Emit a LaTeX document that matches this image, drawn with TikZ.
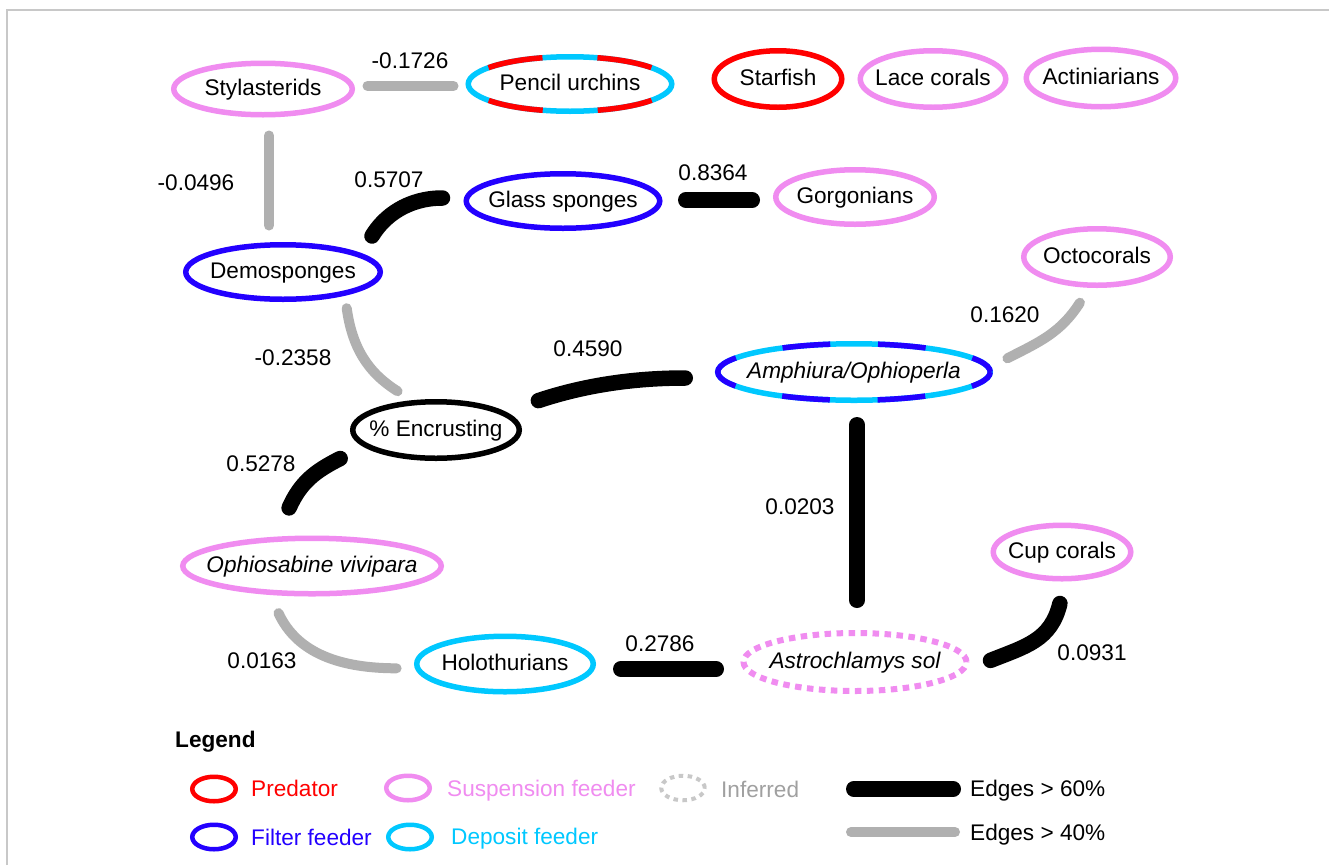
\documentclass[tikz,border=0pt]{standalone}
\usepackage{fontspec}
\setmainfont{Liberation Sans}
\usetikzlibrary{shapes.geometric,calc}
\definecolor{pinkc}{RGB}{240,140,240}
\definecolor{bluec}{RGB}{35,0,255}
\definecolor{cyanc}{RGB}{0,200,255}
\definecolor{redc}{RGB}{255,0,0}
\definecolor{edgegrey}{RGB}{176,176,176}
\definecolor{infgrey}{RGB}{200,200,200}
\definecolor{inftext}{RGB}{160,160,160}
\definecolor{framegrey}{RGB}{200,200,200}
\newcommand{\ctrtext}[1]{\makebox[0pt]{#1}}
\begin{document}
\begin{tikzpicture}[x=1pt,y=1pt,
  every node/.style={font=\fontsize{22.6}{27}\selectfont},
  ell/.style={ellipse, draw, line width=5.5pt, inner sep=0pt, outer sep=0pt, text height=16.3pt, text depth=3.4pt},
  legell/.style={ellipse, draw, line width=4.5pt, inner sep=0pt, outer sep=0pt, minimum width=43.5pt, minimum height=24.5pt},
  edgeB/.style={line width=15.5pt, line cap=round, black},
  edgeG/.style={line width=10pt, line cap=round, edgegrey},
  numlab/.style={inner sep=0pt, text height=16.3pt, text depth=0pt},
  legtext/.style={anchor=west, inner sep=0pt, text height=16.3pt, text depth=0pt}
]
\path[use as bounding box, fill=white] (0,0) rectangle (1329,-865);
\draw[framegrey, line width=1.2pt] (7,-865) -- (7,-10) -- (1329,-10);

% nodes
\node[ell, draw=pinkc, minimum width=178.5pt, minimum height=51.5pt] (Styl) at (263,-89) {\ctrtext{Stylasterids}};
\node[ell, draw=cyanc, minimum width=203.5pt, minimum height=54.5pt,
      postaction={draw=redc, dash pattern=on 55pt off 55pt, dash phase=82.5pt}] (Pencil) at (570,-84) {\ctrtext{Pencil urchins}};
\node[ell, draw=redc, minimum width=127.5pt, minimum height=56.5pt] (Star) at (778,-79) {\ctrtext{Starfish}};
\node[ell, draw=pinkc, minimum width=145.5pt, minimum height=56.5pt] (Lace) at (933,-79) {\ctrtext{Lace corals}};
\node[ell, draw=pinkc, minimum width=149.5pt, minimum height=57.5pt] (Actin) at (1101,-78) {\ctrtext{Actiniarians}};
\node[ell, draw=bluec, minimum width=193.5pt, minimum height=54.5pt] (Glass) at (563,-201) {\ctrtext{Glass sponges}};
\node[ell, draw=pinkc, minimum width=158.5pt, minimum height=54.5pt] (Gorg) at (855,-197) {\ctrtext{Gorgonians}};
\node[ell, draw=bluec, minimum width=194.5pt, minimum height=54.5pt] (Demo) at (283,-272) {\ctrtext{Demosponges}};
\node[ell, draw=pinkc, minimum width=146.5pt, minimum height=56.5pt] (Octo) at (1097,-257) {\ctrtext{Octocorals}};
\node[ell, draw=cyanc, minimum width=272.5pt, minimum height=56.5pt,
      postaction={draw=bluec, dash pattern=on 47.8pt off 47.8pt, dash phase=23.9pt}] (Amph) at (854,-372) {\ctrtext{\itshape Amphiura/Ophioperla}};
\node[ell, draw=black, minimum width=166.5pt, minimum height=56.5pt] (Encr) at (436,-430) {\ctrtext{\% Encrusting}};
\node[ell, draw=pinkc, minimum width=258.5pt, minimum height=55.5pt] (Ophio) at (312,-566) {\ctrtext{\itshape Ophiosabine vivipara}};
\node[ell, draw=pinkc, minimum width=137.5pt, minimum height=53.5pt] (Cup) at (1062,-552) {\ctrtext{Cup corals}};
\node[ell, draw=cyanc, minimum width=176.5pt, minimum height=55.5pt] (Holo) at (505,-664) {\ctrtext{Holothurians}};
\node[ell, draw=pinkc, line width=6pt, dash pattern=on 6.5pt off 5.5pt, minimum width=223pt, minimum height=58pt] (Astro) at (855,-662) {\ctrtext{\itshape Astrochlamys sol}};

% edges
\draw[edgeG] ($(Styl)+(104.5,3)$) -- ($(Pencil)+(-116.5,-2)$);
\draw[edgeG] ($(Styl)+(6,-46.5)$) -- ($(Demo)+(-14,46.5)$);
\draw[edgeB] ($(Demo)+(89,36)$) to[out=59,in=180,out distance=23pt,in distance=35pt] ($(Glass)+(-120.5,3)$);
\draw[edgeB] ($(Glass)+(122.75,1)$) -- ($(Gorg)+(-102.75,-3)$);
\draw[edgeG] ($(Demo)+(63.7,-36.2)$) to[out=-82,in=148,out distance=39pt,in distance=36pt] ($(Encr)+(-38.4,38.8)$);
\draw[edgeB] ($(Encr)+(102.4,29.4)$) to[out=18.4,in=180,distance=50pt] ($(Amph)+(-168.75,-6)$);
\draw[edgeB] ($(Encr)+(-95.8,-28.5)$) to[out=206.7,in=66,distance=28pt] ($(Ophio)+(-22.9,58.1)$);
\draw[edgeG] ($(Octo)+(-17.1,-45.7)$) to[out=237.4,in=27,distance=36pt] ($(Amph)+(153.4,13.7)$);
\draw[edgeB] ($(Amph)+(3,-52.75)$) -- ($(Astro)+(2,61.75)$);
\draw[edgeG] ($(Ophio)+(-33.5,-47.1)$) to[out=-65.3,in=180,out distance=45pt,in distance=55pt] ($(Holo)+(-108.4,-4.3)$);
\draw[edgeB] ($(Holo)+(115.75,-5)$) -- ($(Astro)+(-138.75,-7)$);
\draw[edgeB] ($(Astro)+(135.5,1.6)$) to[out=21.8,in=256.4,distance=38pt] ($(Cup)+(-2.1,-51.5)$);

% edge labels
\node[numlab] (l1) at (410,-60) {-0.1726};
\node[numlab] (l2) at (196,-182) {-0.0496};
\node[numlab] (l3) at (389,-179) {0.5707};
\node[numlab] (l4) at (713,-172) {0.8364};
\node[numlab] (l5) at (293,-357) {-0.2358};
\node[numlab] (l6) at (588,-348) {0.4590};
\node[numlab] (l7) at (1005,-314) {0.1620};
\node[numlab] (l8) at (261,-463) {0.5278};
\node[numlab] (l9) at (800,-506) {0.0203};
\node[numlab] (l10) at (262,-660) {0.0163};
\node[numlab] (l11) at (660,-643) {0.2786};
\node[numlab] (l12) at (1092,-652) {0.0931};

% legend
\node[legtext, font=\fontsize{22.6}{27}\selectfont\bfseries] (legtitle) at (175,-739) {Legend};
\node[legell, draw=redc] (lgpred) at (214,-789) {};
\node[legtext, text=redc] (ltpred) at (251,-788) {Predator};
\node[legell, draw=pinkc] (lgsusp) at (408,-788) {};
\node[legtext, text=pinkc] (ltsusp) at (447,-788) {Suspension feeder};
\node[legell, draw=infgrey, line width=4pt, dash pattern=on 4.5pt off 4.5pt] (lginf) at (683,-788) {};
\node[legtext, text=inftext] (ltinf) at (721,-789) {Inferred};
\node[legell, draw=bluec] (lgfilt) at (214,-837) {};
\node[legtext, text=bluec] (ltfilt) at (251,-837) {Filter feeder};
\node[legell, draw=cyanc] (lgdep) at (410,-837) {};
\node[legtext, text=cyanc] (ltdep) at (451,-836) {Deposit feeder};
\coordinate (bk1) at (853.75,-789);
\coordinate (bk2) at (953.25,-789);
\draw[edgeB] (bk1) -- (bk2);
\node[legtext] (lt60) at (970,-788) {Edges > 60\%};
\coordinate (gy1) at (851,-832);
\coordinate (gy2) at (955,-832);
\draw[edgeG] (gy1) -- (gy2);
\node[legtext] (lt40) at (970,-832) {Edges > 40\%};
\end{tikzpicture}
\end{document}
